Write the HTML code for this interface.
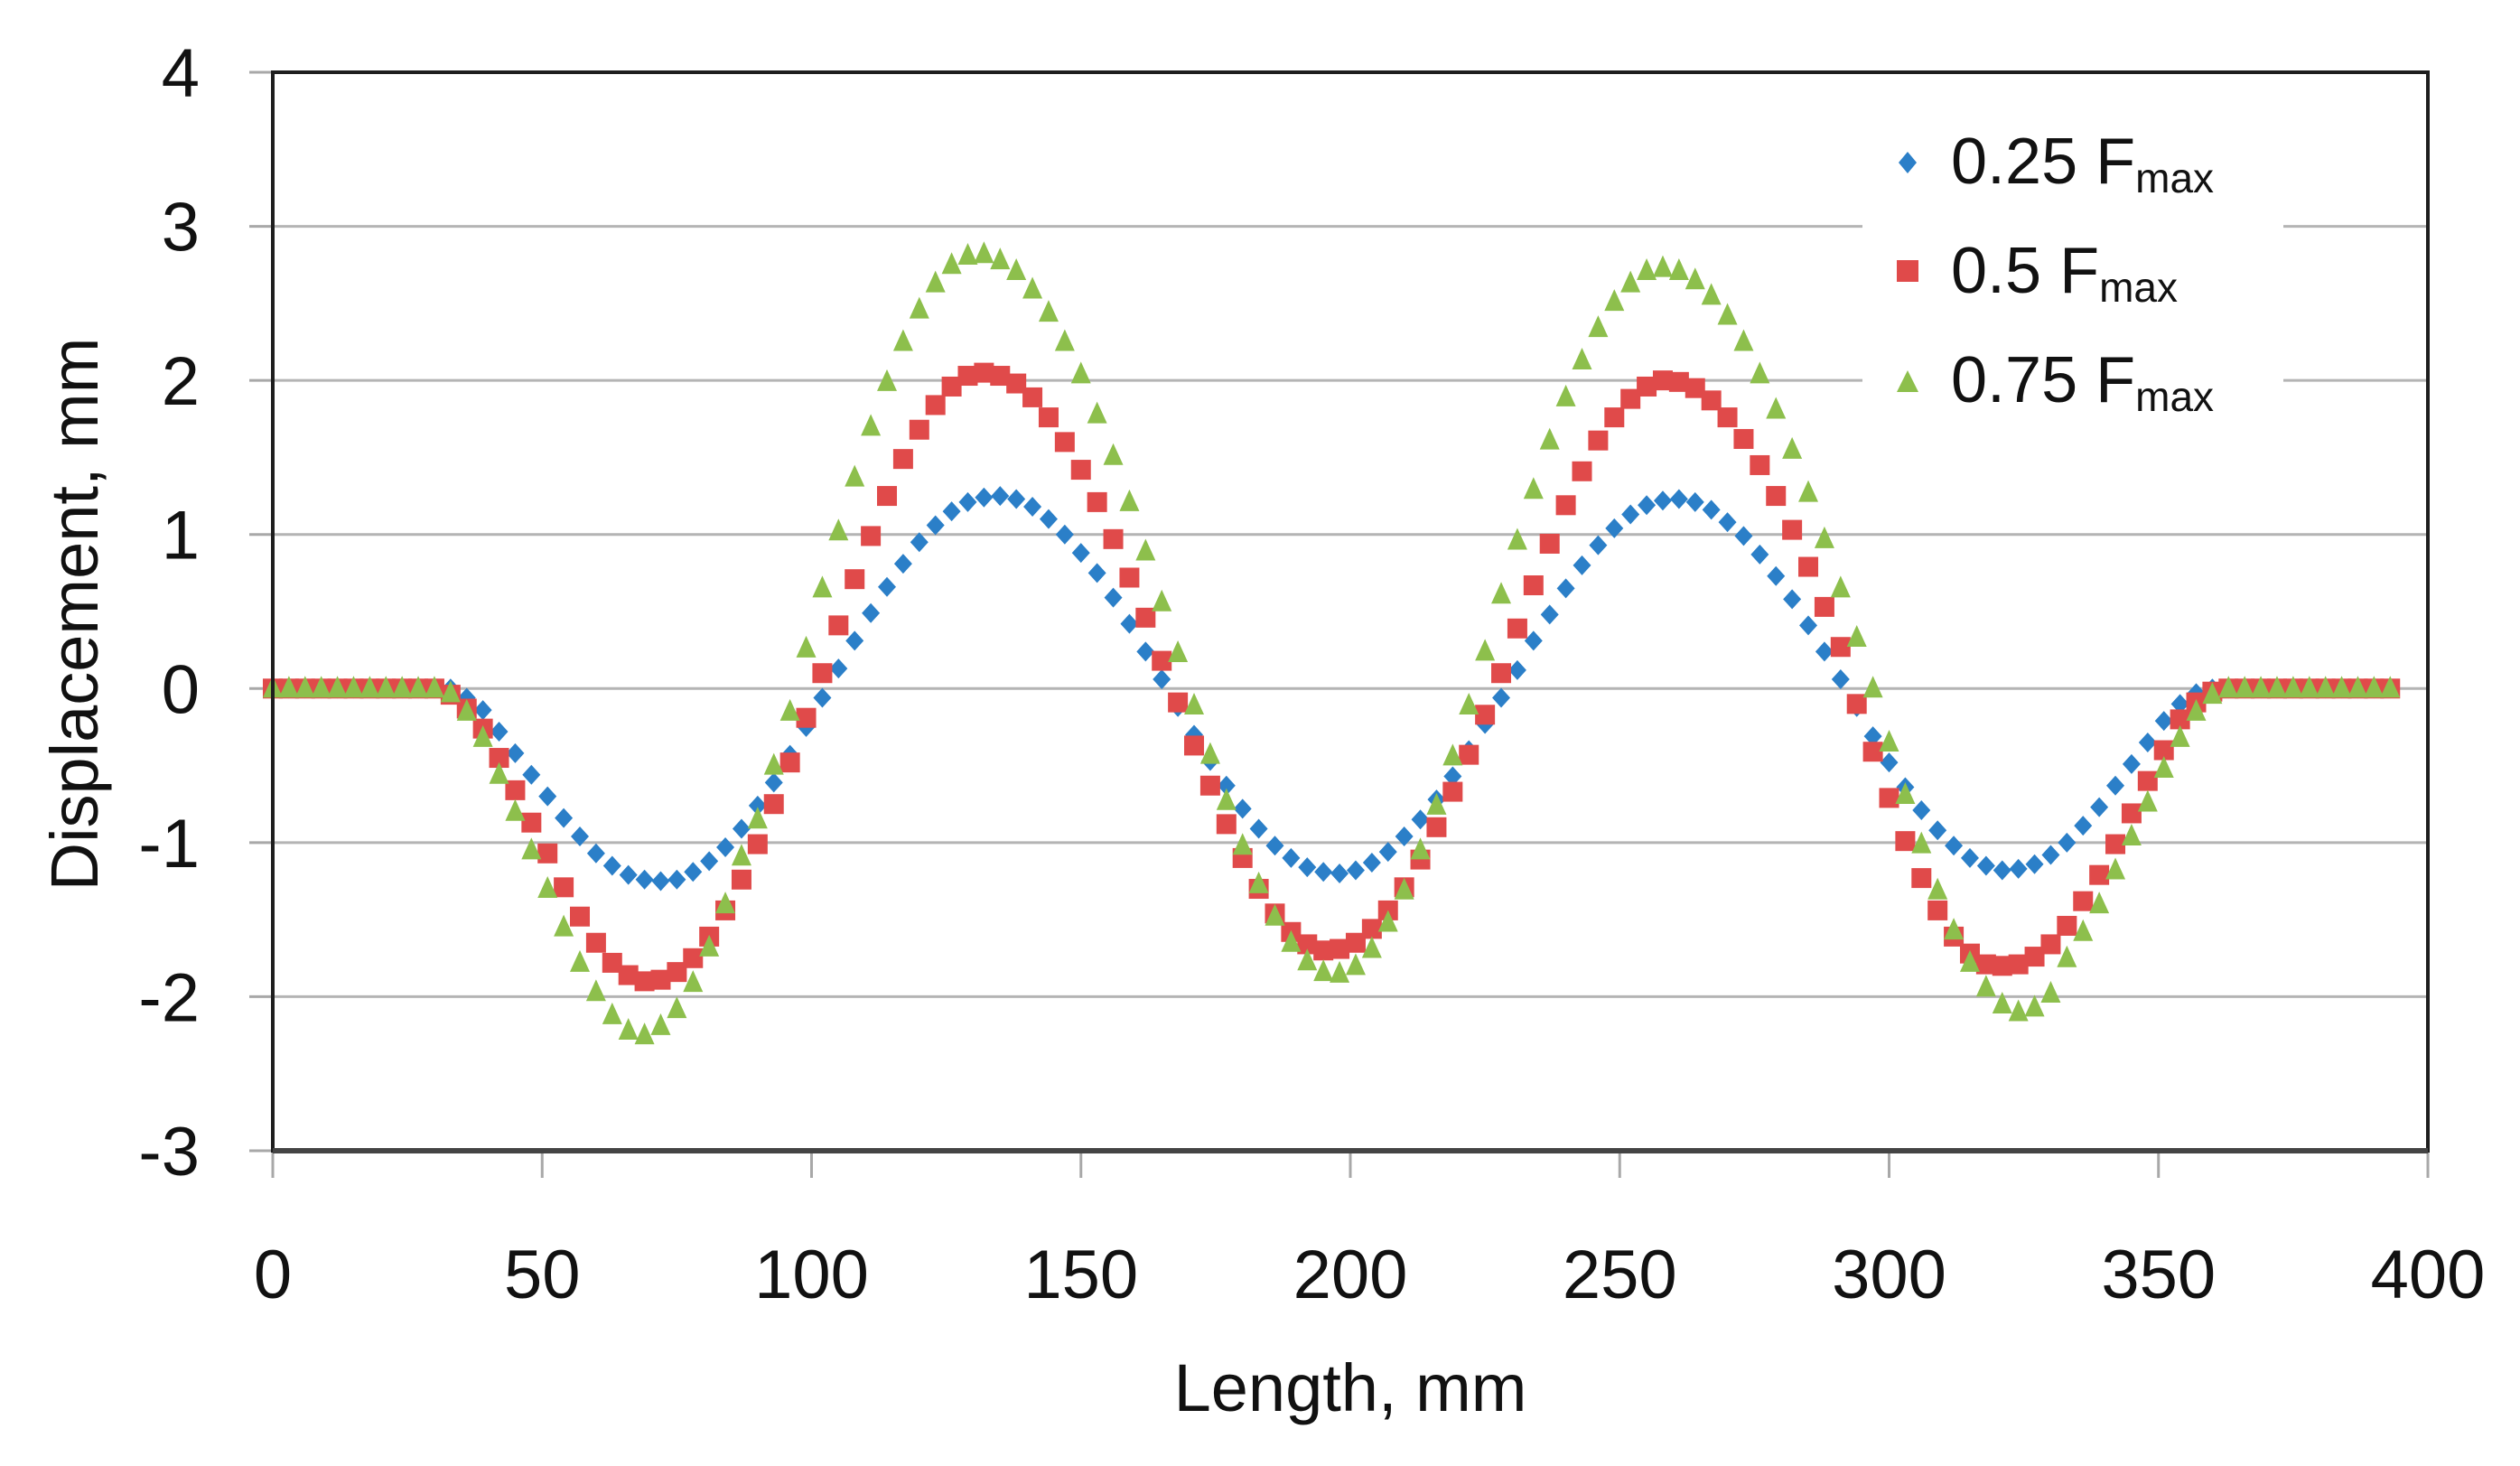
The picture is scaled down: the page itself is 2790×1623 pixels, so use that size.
<!DOCTYPE html>
<html><head><meta charset="utf-8">
<style>
html,body{margin:0;padding:0;background:#fff;}
svg{display:block;font-family:"Liberation Sans",sans-serif;}
</style></head>
<body>
<svg id="chart" width="2790" height="1623" viewBox="0 0 2790 1623" xmlns="http://www.w3.org/2000/svg">
  <rect x="0" y="0" width="2790" height="1623" fill="#fff"/>
  <g id="grid"></g>
  <g id="ticks"></g>
  <g id="series"></g>
  <rect x="2062" y="120" width="466" height="350" fill="#fff"/>
  <g id="frame"></g>
  <g id="labels"></g>
  <text x="1495" y="1562" font-size="74" text-anchor="middle" fill="#111">Length, mm</text>
  <text x="0" y="0" font-size="74" text-anchor="middle" fill="#111" transform="translate(108,680) rotate(-90)">Displacement, mm</text>
  <g>
    <g>
      <polygon points="2112,168 2122,180 2112,192 2102,180" fill="#2b7fc8"/>
      <text x="2160" y="203" font-size="72" fill="#111">0.25 F<tspan font-size="46" dy="10">max</tspan></text>
    </g>
    <g>
      <rect x="2100" y="288" width="24" height="24" fill="#e04a4a"/>
      <text x="2160" y="324" font-size="72" fill="#111">0.5 F<tspan font-size="46" dy="10">max</tspan></text>
    </g>
    <g>
      <polygon points="2112,410 2124,434 2100,434" fill="#8dbf4c"/>
      <text x="2160" y="445" font-size="72" fill="#111">0.75 F<tspan font-size="46" dy="10">max</tspan></text>
    </g>
  </g>
</svg>
<script>
const xs = [0,3,6,9,12,15,18,21,24,27,30,33,36,39,42,45,48,51,54,57,60,63,66,69,72,75,78,81,84,87,90,93,96,99,102,105,108,111,114,117,120,123,126,129,132,135,138,141,144,147,150,153,156,159,162,165,168,171,174,177,180,183,186,189,192,195,198,201,204,207,210,213,216,219,222,225,228,231,234,237,240,243,246,249,252,255,258,261,264,267,270,273,276,279,282,285,288,291,294,297,300,303,306,309,312,315,318,321,324,327,330,333,336,339,342,345,348,351,354,357,360,363,366,369,372,375,378,381,384,387,390,393];
const blue = [0,0,0,0,0,0,0,0,0,0,0,0,-0.06,-0.14,-0.28,-0.42,-0.56,-0.70,-0.84,-0.96,-1.07,-1.15,-1.21,-1.24,-1.25,-1.24,-1.19,-1.12,-1.03,-0.91,-0.76,-0.61,-0.43,-0.25,-0.06,0.13,0.31,0.49,0.66,0.81,0.95,1.06,1.15,1.21,1.24,1.25,1.23,1.18,1.10,1.00,0.88,0.75,0.59,0.42,0.24,0.06,-0.12,-0.30,-0.47,-0.63,-0.78,-0.91,-1.02,-1.10,-1.16,-1.19,-1.20,-1.18,-1.13,-1.06,-0.96,-0.85,-0.72,-0.57,-0.40,-0.23,-0.06,0.12,0.31,0.48,0.65,0.80,0.93,1.04,1.13,1.19,1.22,1.23,1.21,1.16,1.08,0.99,0.87,0.73,0.58,0.41,0.24,0.06,-0.12,-0.31,-0.48,-0.64,-0.79,-0.92,-1.02,-1.10,-1.15,-1.18,-1.17,-1.14,-1.08,-1.00,-0.89,-0.77,-0.63,-0.49,-0.35,-0.21,-0.10,-0.03,0,0,0,0,0,0,0,0,0,0,0,0];
const red = [0,0,0,0,0,0,0,0,0,0,0,-0.04,-0.13,-0.26,-0.45,-0.66,-0.87,-1.07,-1.29,-1.48,-1.65,-1.78,-1.86,-1.90,-1.89,-1.84,-1.75,-1.61,-1.44,-1.24,-1.01,-0.75,-0.48,-0.19,0.10,0.41,0.71,0.99,1.25,1.49,1.68,1.84,1.96,2.03,2.05,2.03,1.98,1.89,1.76,1.60,1.42,1.21,0.97,0.72,0.46,0.18,-0.09,-0.37,-0.63,-0.88,-1.10,-1.30,-1.46,-1.58,-1.66,-1.70,-1.69,-1.65,-1.56,-1.44,-1.29,-1.11,-0.90,-0.67,-0.43,-0.17,0.10,0.39,0.67,0.94,1.19,1.41,1.61,1.76,1.88,1.96,2.00,1.99,1.95,1.87,1.76,1.62,1.45,1.25,1.03,0.79,0.53,0.27,-0.10,-0.41,-0.71,-0.99,-1.23,-1.44,-1.61,-1.72,-1.79,-1.80,-1.79,-1.74,-1.66,-1.54,-1.38,-1.21,-1.01,-0.81,-0.60,-0.40,-0.20,-0.09,-0.02,0,0,0,0,0,0,0,0,0,0,0];
const green = [0,0,0,0,0,0,0,0,0,0,0,-0.03,-0.15,-0.32,-0.56,-0.80,-1.05,-1.30,-1.55,-1.78,-1.97,-2.12,-2.22,-2.25,-2.19,-2.08,-1.91,-1.68,-1.40,-1.09,-0.85,-0.50,-0.15,0.26,0.65,1.02,1.37,1.70,1.99,2.25,2.46,2.63,2.75,2.81,2.82,2.78,2.71,2.59,2.44,2.25,2.04,1.78,1.51,1.21,0.89,0.56,0.23,-0.11,-0.43,-0.73,-1.02,-1.27,-1.48,-1.65,-1.77,-1.84,-1.85,-1.80,-1.69,-1.52,-1.31,-1.05,-0.76,-0.44,-0.11,0.24,0.61,0.96,1.29,1.61,1.89,2.13,2.34,2.51,2.63,2.71,2.73,2.71,2.65,2.55,2.42,2.25,2.04,1.81,1.55,1.27,0.97,0.65,0.33,0.00,-0.35,-0.69,-1.01,-1.31,-1.57,-1.78,-1.94,-2.05,-2.10,-2.07,-1.98,-1.75,-1.58,-1.40,-1.18,-0.96,-0.74,-0.52,-0.32,-0.15,-0.04,0,0,0,0,0,0,0,0,0,0,0];
const xTicks = [0,50,100,150,200,250,300,350,400];
const xTickLabels = ["0","50","100","150","200","250","300","350","400"];
const yTicks = [-3,-2,-1,0,1,2,3,4];
const yTickLabels = ["-3","-2","-1","0","1","2","3","4"];

const NS = "http://www.w3.org/2000/svg";
const L = 302, R = 2688, T = 80, B = 1274;
const XMIN = 0, XMAX = 400, YMIN = -3, YMAX = 4;
function sx(v){ return L + (v - XMIN) / (XMAX - XMIN) * (R - L); }
function sy(v){ return B - (v - YMIN) / (YMAX - YMIN) * (B - T); }
function mk(tag, attrs){ const e = document.createElementNS(NS, tag); for (const k in attrs) e.setAttribute(k, attrs[k]); return e; }

const grid = document.getElementById('grid');
const ticks = document.getElementById('ticks');
const labels = document.getElementById('labels');
const frame = document.getElementById('frame');
const series = document.getElementById('series');

yTicks.forEach((v, i) => {
  const y = sy(v);
  if (v > YMIN && v < YMAX) {
    const g = mk('line', {x1: L, x2: R, y1: y, y2: y, stroke: '#b4b4b4', 'stroke-width': 3});
    
    
    grid.appendChild(g);
  }
  const t = mk('line', {x1: 276, x2: L, y1: y, y2: y, stroke: '#a8a8a8', 'stroke-width': 3});
  
  
  ticks.appendChild(t);
  const lb = mk('text', {x: 221, y: y + 27, 'font-size': 76, 'text-anchor': 'end', fill: '#111'});
  lb.textContent = yTickLabels[i];
  
  
  labels.appendChild(lb);
});

xTicks.forEach((v, i) => {
  const x = sx(v);
  const t = mk('line', {x1: x, x2: x, y1: B, y2: 1304, stroke: '#a8a8a8', 'stroke-width': 3});
  
  
  ticks.appendChild(t);
  const lb = mk('text', {x: x, y: 1437, 'font-size': 76, 'text-anchor': 'middle', fill: '#111'});
  lb.textContent = xTickLabels[i];
  
  
  labels.appendChild(lb);
});

const fr = mk('rect', {x: L, y: T, width: R - L, height: B - T, fill: 'none', stroke: '#1e1e1e', 'stroke-width': 4});


frame.appendChild(fr);
const xa = mk('line', {x1: L, x2: R, y1: B, y2: B, stroke: '#444', 'stroke-width': 6});


frame.appendChild(xa);

function drawSeries(vals, kind, color, name){
  const g = mk('g', {});
  
  
  vals.forEach((v, i) => {
    const cx = sx(xs[i]), cy = sy(v);
    let e;
    if (kind === 'diamond') {
      e = mk('polygon', {points: `${cx},${cy-11} ${cx+10},${cy} ${cx},${cy+11} ${cx-10},${cy}`, fill: color});
    } else if (kind === 'square') {
      e = mk('rect', {x: cx - 11, y: cy - 11, width: 22, height: 22, fill: color});
    } else {
      e = mk('polygon', {points: `${cx},${cy-14} ${cx+11},${cy+10} ${cx-11},${cy+10}`, fill: color});
    }
    
    
    g.appendChild(e);
  });
  series.appendChild(g);
}
drawSeries(blue, 'diamond', '#2b7fc8', 'series-025-fmax');
drawSeries(red, 'square', '#e04a4a', 'series-05-fmax');
drawSeries(green, 'triangle', '#8dbf4c', 'series-075-fmax');
</script>
</body></html>
